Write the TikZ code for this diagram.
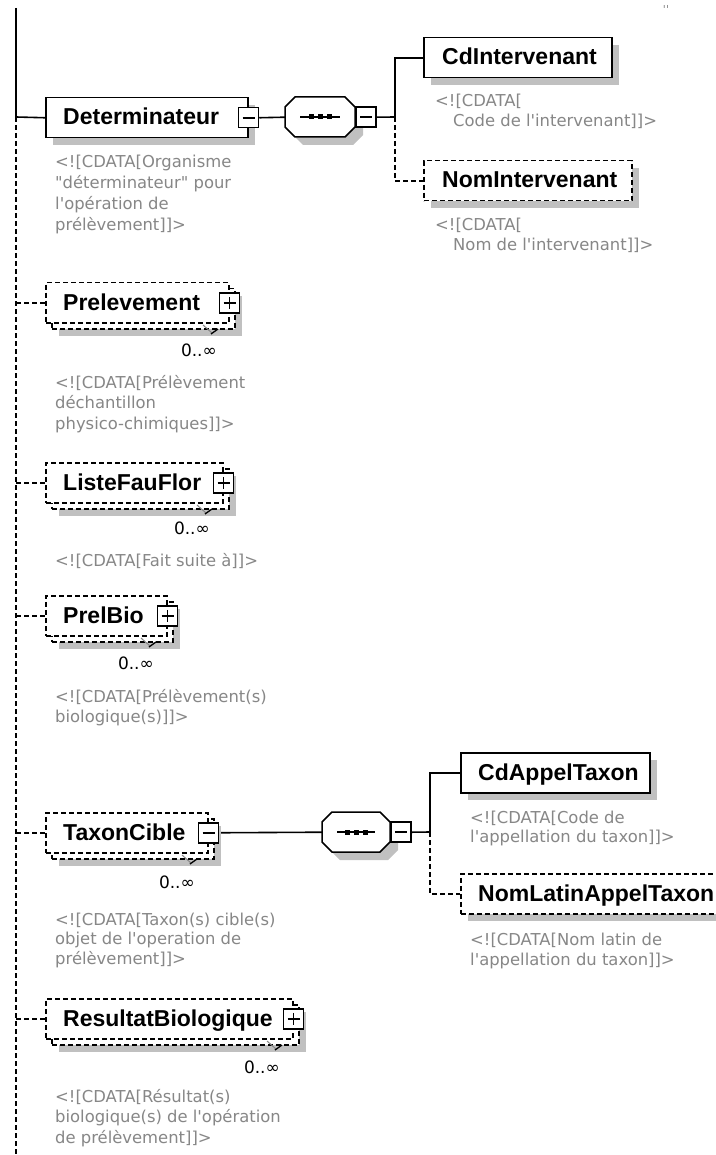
\documentclass[tikz,border=0pt]{standalone}
\usepackage{fontspec}
\setmainfont{DejaVu Sans}
\newfontfamily\titlefont{Liberation Sans}
\newfontfamily\annfont[Ligatures=TeXOff]{DejaVu Sans}
\usetikzlibrary{backgrounds}
\definecolor{anngray}{RGB}{135,135,135}
\definecolor{shadowgray}{RGB}{192,192,192}
\newcommand\octo[4]{\path[#4] (#1,#2) ++(10,0) -- ++(#3-20,0) -- ++(10,10) -- ++(0,20) -- ++(-10,10) -- ++(-#3+20,0) -- ++(-10,-10) -- ++(0,-20) -- cycle;}
\newcommand\seqicon[3]{%
  \draw[line width=1.5pt] (#1+15,#2+20) -- (#1+#3-15,#2+20);
  \foreach \dx in {-9,0,9}{\fill (#1+#3/2+\dx-2.5,#2+17.5) rectangle ++(5,5);}}
\newcommand\notch[2]{%
  \draw[line width=1pt, shadowgray!70!black] (#1-13,#2-3) -- (#1-4,#2+5);
  \draw[line width=1.3pt] (#1-5,#2+6) -- (#1+2,#2+1);}
\begin{document}
\begin{tikzpicture}[x=1pt,y=-1pt,
  bx/.style={draw=black, line width=1.5pt, fill=white, rectangle, inner sep=0pt, minimum height=40pt, anchor=north west},
  dbx/.style={bx, dash pattern=on 5pt off 3pt},
  ttl/.style={font=\titlefont\bfseries\fontsize{23}{27}\selectfont, anchor=west, inner sep=0pt, text height=17pt, text depth=1pt},
  ann/.style={font=\annfont\fontsize{16.4}{20}\selectfont, text=anngray, anchor=west, inner sep=0pt, text height=12pt, text depth=2pt},
  card/.style={font=\annfont\fontsize{17}{20}\selectfont, anchor=east, inner sep=0pt, text height=12pt, text depth=0pt},
  pmb/.style={draw=black, line width=1.5pt, fill=white, rectangle, minimum size=20pt, inner sep=0pt},
  minusb/.style={pmb, path picture={\draw[line width=1.6pt] ([xshift=4pt]path picture bounding box.west) -- ([xshift=-4pt]path picture bounding box.east);}},
  plusb/.style={pmb, path picture={\draw[line width=1.6pt] ([xshift=4pt]path picture bounding box.west) -- ([xshift=-4pt]path picture bounding box.east) ([yshift=-4pt]path picture bounding box.north) -- ([yshift=4pt]path picture bounding box.south);}},
  link/.style={line width=1.6pt},
  olink/.style={link, dash pattern=on 5pt off 3pt},
  shd/.style={fill=shadowgray, draw=none},
  octb/.style={draw=black, line width=1.5pt, fill=white},
  ghost/.style={inner sep=0pt, minimum height=40pt, anchor=north west}
]
\path[use as bounding box] (0,0) rectangle (715,1155);

% ---------- shadows ----------
\fill[shd] (53,105) rectangle (255,145);
\octo{293}{105}{70}{shd}
\fill[shd] (431,45) rectangle (619,85);
\fill[shd] (431,168) rectangle (639,208);
\fill[shd] (59,296) rectangle (242,336);
\fill[shd] (59,476) rectangle (236,516);
\fill[shd] (59,609) rectangle (180,649);
\fill[shd] (59,826) rectangle (221,866);
\octo{330}{820}{68}{shd}
\fill[shd] (468,760) rectangle (657,800);
\fill[shd] (468,881) rectangle (738,921);
\fill[shd] (59,1012) rectangle (306,1052);

% ---------- element boxes ----------
\node[bx, minimum width=202pt] (det) at (45,97) {};
\node[ghost, minimum width=70pt] (seq1) at (285,97) {};
\octo{285}{97}{70}{octb}
\seqicon{285}{97}{70}
\node[bx, minimum width=188pt] (cdi) at (423,37) {};
\node[dbx, minimum width=208pt] (nomi) at (423,160) {};

\node[dbx, minimum width=183pt] (preB) at (51,288) {};
\node[dbx, minimum width=183pt] (pre) at (45,282) {};
\node[dbx, minimum width=177pt] (lffB) at (51,468) {};
\node[dbx, minimum width=177pt] (lff) at (45,462) {};
\node[dbx, minimum width=121pt] (pbB) at (51,601) {};
\node[dbx, minimum width=121pt] (pb) at (45,595) {};
\node[dbx, minimum width=162pt] (taxB) at (51,818) {};
\node[dbx, minimum width=162pt] (tax) at (45,812) {};
\node[ghost, minimum width=68pt] (seq2) at (322,812) {};
\octo{322}{812}{68}{octb}
\seqicon{322}{812}{68}
\node[bx, minimum width=189pt] (cat) at (460,752) {};
\node[dbx, minimum width=270pt] (nla) at (460,873) {};
\node[dbx, minimum width=247pt] (rbB) at (51,1004) {};
\node[dbx, minimum width=247pt] (rb) at (45,998) {};

% ---------- plus / minus boxes ----------
\node[minusb] (detm) at (det.east) {};
\node[minusb, anchor=west] (seq1m) at (seq1.east) {};
\node[plusb] (prem) at (pre.east) {};
\node[plusb] (lffm) at (lff.east) {};
\node[plusb] (pbm) at (pb.east) {};
\node[minusb] (taxm) at (tax.east) {};
\node[minusb, anchor=west] (seq2m) at (seq2.east) {};
\node[plusb] (rbm) at (rb.east) {};

% ---------- connectors ----------
\coordinate (top) at (16,8);
\coordinate (j0) at (16,117);
\coordinate (bot) at (16,1155);
\coordinate (b1) at (395,117);
\coordinate (b2) at (430,832);
\begin{scope}[on background layer]
\fill[white] (0,0) rectangle (715,1155);
\draw[link] (top) -- (j0);
\draw[olink] (j0) -- (bot);
\draw[link] (j0) -- (det.west);
\draw[link] (detm.east) -- (seq1.west);
\draw[link] (seq1m.east) -- (b1);
\draw[link] (b1) |- (cdi.west);
\draw[olink] (b1) |- (nomi.west);
\draw[olink] (pre.west -| top) -- (pre.west);
\draw[olink] (lff.west -| top) -- (lff.west);
\draw[olink] (pb.west -| top) -- (pb.west);
\draw[olink] (tax.west -| top) -- (tax.west);
\draw[olink] (rb.west -| top) -- (rb.west);
\draw[link] (taxm.east) -- (seq2.west);
\draw[link] (seq2m.east) -- (b2);
\draw[link] (b2) |- (cat.west);
\draw[olink] (b2) |- (nla.west);
\end{scope}

% ---------- titles ----------
\node[ttl] (detT) at (63,117) {Determinateur};
\node[ttl] (cdiT) at (442,57) {CdIntervenant};
\node[ttl] (nomiT) at (442,180) {NomIntervenant};
\node[ttl] (preT) at (63,302) {Prelevement};
\node[ttl] (lffT) at (63,482) {ListeFauFlor};
\node[ttl] (pbT) at (63,615) {PrelBio};
\node[ttl] (taxT) at (63,832) {TaxonCible};
\node[ttl] (catT) at (478,772) {CdAppelTaxon};
\node[ttl] (nlaT) at (478,893) {NomLatinAppelTaxon};
\node[ttl] (rbT) at (63,1018) {ResultatBiologique};

% ---------- cardinalities ----------
\notch{216}{328}
\node[card] (preC) at (217,350) {0..∞};
\notch{210}{508}
\node[card] (lffC) at (210,528) {0..∞};
\notch{154}{641}
\node[card] (pbC) at (154,663) {0..∞};
\notch{195}{858}
\node[card] (taxC) at (195,882) {0..∞};
\notch{280}{1044}
\node[card] (rbC) at (280,1067) {0..∞};

% ---------- annotations ----------
\node[ann] (detA1) at (55,162.5) {<![CDATA[Organisme};
\node[ann] (detA2) at (55,183.5) {"déterminateur" pour};
\node[ann] (detA3) at (55,204.5) {l'opération de};
\node[ann] (detA4) at (55,225.5) {prélèvement]]>};
\node[ann] (cdiA1) at (435,102) {<![CDATA[};
\node[ann] (cdiA2) at (453,122) {Code de l'intervenant]]>};
\node[ann] (nomiA1) at (435,226) {<![CDATA[};
\node[ann] (nomiA2) at (453,246) {Nom de l'intervenant]]>};
\node[ann] (preA1) at (55,383) {<![CDATA[Prélèvement};
\node[ann] (preA2) at (55,403.5) {déchantillon};
\node[ann] (preA3) at (55,424) {physico-chimiques]]>};
\node[ann] (lffA1) at (55,561) {<![CDATA[Fait suite à]]>};
\node[ann] (pbA1) at (55,697) {<![CDATA[Prélèvement(s)};
\node[ann] (pbA2) at (55,717) {biologique(s)]]>};
\node[ann] (taxA1) at (55,920) {<![CDATA[Taxon(s) cible(s)};
\node[ann] (taxA2) at (55,939.5) {objet de l'operation de};
\node[ann] (taxA3) at (55,959) {prélèvement]]>};
\node[ann] (catA1) at (470,818) {<![CDATA[Code de};
\node[ann] (catA2) at (470,837.5) {l'appellation du taxon]]>};
\node[ann] (nlaA1) at (470,940) {<![CDATA[Nom latin de};
\node[ann] (nlaA2) at (470,960) {l'appellation du taxon]]>};
\node[ann] (rbA1) at (55,1097) {<![CDATA[Résultat(s)};
\node[ann] (rbA2) at (55,1117) {biologique(s) de l'opération};
\node[ann] (rbA3) at (55,1138) {de prélèvement]]>};

\node[font=\annfont\fontsize{11}{11}\selectfont, text=anngray, inner sep=0pt] (mark) at (666,9) {''};
\end{tikzpicture}
\end{document}
